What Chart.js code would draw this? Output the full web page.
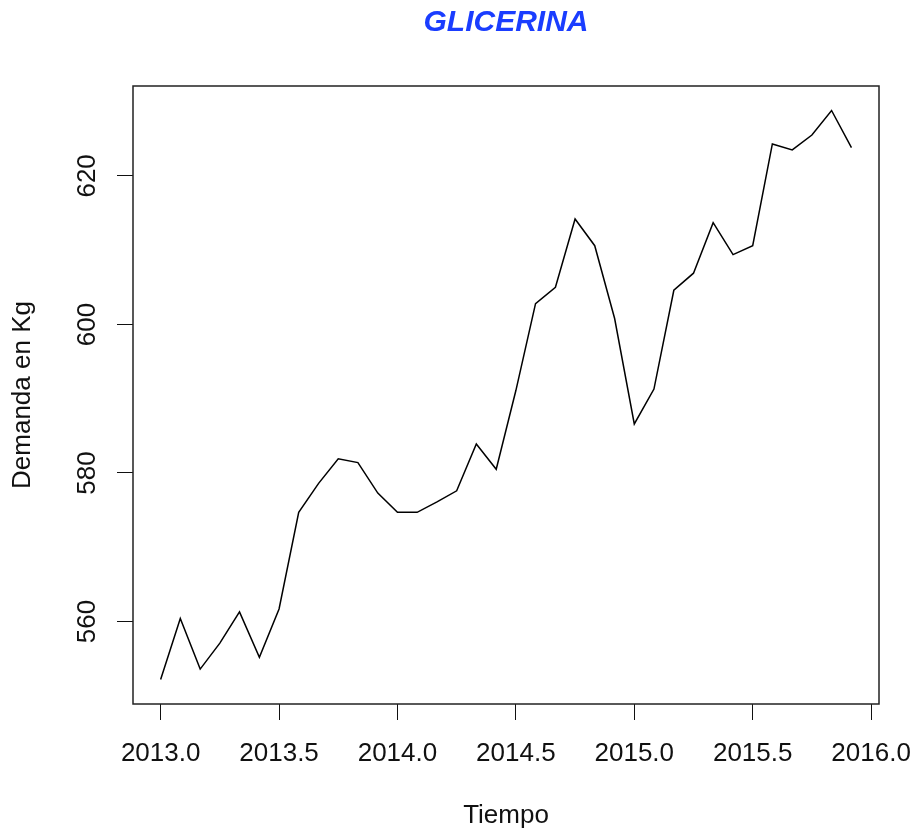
<!DOCTYPE html>
<html>
<head>
<meta charset="utf-8">
<script src="https://cdn.jsdelivr.net/npm/chart.js@4/dist/chart.umd.min.js"></script>
<style>
  html, body { margin: 0; padding: 0; background: #fff; }
  #wrap { width: 914px; height: 833px; }
</style>
</head>
<body>
<div id="wrap"><canvas id="glicerinaChart" width="914" height="833"></canvas></div>
<script>
// serie mensual 2013-01 .. 2015-12
var tiempo = [
  2013.000, 2013.083, 2013.167, 2013.250, 2013.333, 2013.417, 2013.500, 2013.583, 2013.667, 2013.750, 2013.833, 2013.917,
  2014.000, 2014.083, 2014.167, 2014.250, 2014.333, 2014.417, 2014.500, 2014.583, 2014.667, 2014.750, 2014.833, 2014.917,
  2015.000, 2015.083, 2015.167, 2015.250, 2015.333, 2015.417, 2015.500, 2015.583, 2015.667, 2015.750, 2015.833, 2015.917
];
var demanda = [
  552.2, 560.4, 553.6, 557.1, 561.3, 555.2, 561.7, 574.7, 578.6, 581.9, 581.4, 577.3,
  574.7, 574.7, 576.1, 577.6, 583.9, 580.5, 591.1, 602.8, 605.0, 614.2, 610.6, 600.8,
  586.6, 591.3, 604.6, 606.9, 613.7, 609.4, 610.6, 624.3, 623.5, 625.5, 628.8, 623.8
];
var xTicks = [2013.0, 2013.5, 2014.0, 2014.5, 2015.0, 2015.5, 2016.0];
var yTicks = [560, 580, 600, 620];

document.addEventListener("DOMContentLoaded", function () {
    var fuente = "'Liberation Sans', Arial, sans-serif";
    var negro = '#111';

    // caja alrededor del area del grafico (estilo R)
    var cajaPlugin = {
        id: 'caja',
        afterDraw: function (chart) {
            var a = chart.chartArea, ctx = chart.ctx;
            ctx.save();
            ctx.strokeStyle = '#222';
            ctx.lineWidth = 1.5;
            ctx.strokeRect(a.left, a.top, a.right - a.left, a.bottom - a.top);
            ctx.restore();
        }
    };

    var ctx = document.getElementById('glicerinaChart').getContext('2d');
    var chart = new Chart(ctx, {
        type: 'line',
        data: {
            datasets: [{
                label: 'Glicerina',
                data: tiempo.map(function (t, i) { return { x: t, y: demanda[i] }; }),
                borderColor: '#000',
                borderWidth: 1.5,
                pointRadius: 0,
                tension: 0,
                fill: false
            }]
        },
        options: {
            responsive: false,
            animation: false,
            layout: { padding: { left: 0, right: 35, top: 0, bottom: 0 } },
            plugins: {
                legend: { display: false },
                tooltip: { enabled: false },
                title: {
                    display: true,
                    text: 'GLICERINA',
                    color: '#1a3dff',
                    fullSize: false,
                    font: { family: fuente, size: 30, weight: 'bold', style: 'italic', lineHeight: '35px' },
                    padding: { top: 5, bottom: 46 }
                }
            },
            scales: {
                x: {
                    type: 'linear',
                    min: 2012.8833,
                    max: 2016.0333,
                    afterBuildTicks: function (axis) {
                        axis.ticks = xTicks.map(function (v) { return { value: v }; });
                    },
                    afterFit: function (axis) {
                        axis.height = 129;
                        axis.paddingLeft = 0;
                        axis.paddingRight = 0;
                    },
                    border: { display: false },
                    grid: { drawOnChartArea: false, drawTicks: true, tickLength: 16, color: negro, lineWidth: 1 },
                    ticks: {
                        autoSkip: false,
                        maxRotation: 0,
                        padding: 18,
                        color: negro,
                        font: { family: fuente, size: 26 },
                        callback: function (v) { return Number(v).toFixed(1); }
                    },
                    title: {
                        display: true,
                        text: 'Tiempo',
                        color: negro,
                        font: { family: fuente, size: 26 },
                        padding: { top: 0, bottom: 2 }
                    }
                },
                y: {
                    min: 548.9,
                    max: 632.1,
                    afterBuildTicks: function (axis) {
                        axis.ticks = yTicks.map(function (v) { return { value: v }; });
                    },
                    afterFit: function (axis) {
                        axis.width = 133;
                        axis.paddingTop = 0;
                        axis.paddingBottom = 0;
                    },
                    border: { display: false },
                    grid: { drawOnChartArea: false, drawTicks: true, tickLength: 16, color: negro, lineWidth: 1 },
                    ticks: {
                        minRotation: 90,
                        maxRotation: 90,
                        crossAlign: 'center',
                        padding: 7,
                        color: negro,
                        font: { family: fuente, size: 26 },
                        callback: function (v) { return String(v); }
                    },
                    title: {
                        display: true,
                        text: 'Demanda en Kg',
                        color: negro,
                        font: { family: fuente, size: 26 },
                        padding: { top: 7, bottom: 0 }
                    }
                }
            }
        },
        plugins: [cajaPlugin]
    });
});
</script>
</body>
</html>
